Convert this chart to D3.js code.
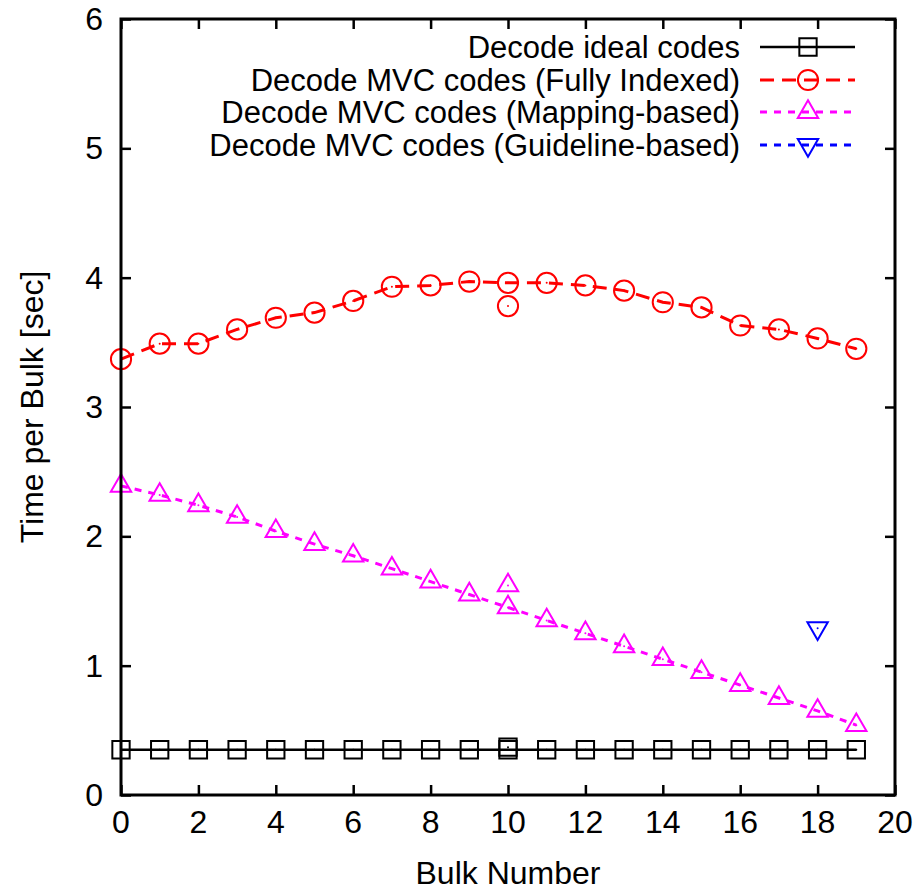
<!DOCTYPE html>
<html>
<head>
<meta charset="utf-8">
<script src="https://cdn.jsdelivr.net/npm/d3@7"></script>
<style>
  body { margin: 0; background: #fff; }
  text { font-family: "Liberation Sans", Arial, sans-serif; }
</style>
</head>
<body>
<svg id="svg" width="920" height="892"></svg>
<script>
var bulks = [0, 1, 2, 3, 4, 5, 6, 7, 8, 9, 10, 11, 12, 13, 14, 15, 16, 17, 18, 19];
var idealCodes = [0.35, 0.35, 0.35, 0.35, 0.35, 0.35, 0.35, 0.35, 0.35, 0.35,
                  0.35, 0.35, 0.35, 0.35, 0.35, 0.35, 0.35, 0.35, 0.35, 0.35];
var fullyIndexed = [3.37, 3.49, 3.49, 3.60, 3.69, 3.73, 3.82, 3.93, 3.94, 3.97,
                    3.96, 3.96, 3.94, 3.90, 3.81, 3.77, 3.63, 3.60, 3.53, 3.45];
var mappingBased = [2.39, 2.32, 2.24, 2.15, 2.04, 1.94, 1.85, 1.75, 1.65, 1.55,
                    1.45, 1.35, 1.25, 1.15, 1.05, 0.95, 0.85, 0.75, 0.65, 0.54];
// stray extra measurements at bulk 10 (not joined to the lines)
var extraBulk = [10];
var idealExtra = [0.37];
var fullyExtra = [3.78];
var mappingExtra = [1.62];
var guidelineBulk = [18];
var guidelineBased = [1.29];

var xTicks = [0, 2, 4, 6, 8, 10, 12, 14, 16, 18, 20];
var yTicks = [0, 1, 2, 3, 4, 5, 6];

var svg = d3.select('#svg');
var pLeft = 121, pRight = 895, pTop = 19, pBottom = 795;
var scX = d3.scaleLinear().domain([0, 20]).range([pLeft, pRight]);
var scY = d3.scaleLinear().domain([0, 6]).range([pBottom, pTop]);

function pts(xs, ys) {
    return xs.map((x, i) => ({x: x, y: ys[i]}));
}

var series = [
    {name: 'Decode ideal codes', color: '#000', dash: null, width: 2.5, shape: 'square',
     data: pts(bulks, idealCodes), extra: pts(extraBulk, idealExtra)},
    {name: 'Decode MVC codes (Fully Indexed)', color: '#ff0000', dash: '14,8', width: 3, shape: 'circle',
     data: pts(bulks, fullyIndexed), extra: pts(extraBulk, fullyExtra)},
    {name: 'Decode MVC codes (Mapping-based)', color: '#ff00ff', dash: '7,7', width: 3, shape: 'triUp',
     data: pts(bulks, mappingBased), extra: pts(extraBulk, mappingExtra)},
    {name: 'Decode MVC codes (Guideline-based)', color: '#0000ff', dash: '7,7', width: 3, shape: 'triDown',
     data: [], extra: pts(guidelineBulk, guidelineBased)},
];

var shapes = {
    square: d3.symbol().type(d3.symbolSquare).size(300),
    circle: d3.symbol().type(d3.symbolCircle).size(320),
    triUp: d3.symbol().type(d3.symbolTriangle).size(180),
    triDown: d3.symbol().type(d3.symbolTriangle).size(180)
};

function marker(g, s, x, y) {
    g.append('path')
        .attr('d', shapes[s.shape]())
        .attr('fill', 'none')
        .attr('stroke', s.color)
        .attr('stroke-width', 2)
        .attr('transform', 'translate(' + x + ',' + y + ')' + (s.shape === 'triDown' ? ' rotate(180)' : ''));
    g.append('circle')
        .attr('cx', x).attr('cy', y).attr('r', 1)
        .attr('fill', s.color);
}

// axes with inward ticks on all four sides
var tickLen = 10;
svg.append('g').attr('transform', 'translate(0,' + pBottom + ')')
    .call(d3.axisTop(scX).tickValues(xTicks).tickSize(tickLen).tickFormat(''))
    .call(g => g.select('.domain').remove());
svg.append('g').attr('transform', 'translate(0,' + pTop + ')')
    .call(d3.axisBottom(scX).tickValues(xTicks).tickSize(tickLen).tickFormat(''))
    .call(g => g.select('.domain').remove());
svg.append('g').attr('transform', 'translate(' + pLeft + ',0)')
    .call(d3.axisRight(scY).tickValues(yTicks).tickSize(tickLen).tickFormat(''))
    .call(g => g.select('.domain').remove());
svg.append('g').attr('transform', 'translate(' + pRight + ',0)')
    .call(d3.axisLeft(scY).tickValues(yTicks).tickSize(tickLen).tickFormat(''))
    .call(g => g.select('.domain').remove());
svg.selectAll('.tick line').attr('stroke', '#000').attr('stroke-width', 2.5);

// tick labels
svg.append('g').selectAll('text').data(xTicks).enter().append('text')
    .attr('x', d => scX(d)).attr('y', pBottom + 38)
    .attr('text-anchor', 'middle').attr('font-size', 32)
    .text(d => d);
svg.append('g').selectAll('text').data(yTicks).enter().append('text')
    .attr('x', pLeft - 18).attr('y', d => scY(d) + 11)
    .attr('text-anchor', 'end').attr('font-size', 32)
    .text(d => d);

svg.append('text')
    .attr('x', (pLeft + pRight) / 2).attr('y', 884)
    .attr('text-anchor', 'middle').attr('font-size', 32)
    .text('Bulk Number');
svg.append('text')
    .attr('transform', 'translate(43,' + (pTop + pBottom) / 2 + ') rotate(-90)')
    .attr('text-anchor', 'middle').attr('font-size', 32)
    .text('Time per Bulk [sec]');

// series
var line = d3.line().x(d => scX(d.x)).y(d => scY(d.y));
series.forEach(function (s) {
    var g = svg.append('g');
    if (s.data.length) {
        g.append('path')
            .attr('d', line(s.data))
            .attr('fill', 'none')
            .attr('stroke', s.color)
            .attr('stroke-width', s.width)
            .attr('stroke-dasharray', s.dash);
    }
    s.data.concat(s.extra).forEach(d => marker(g, s, scX(d.x), scY(d.y)));
});

// legend
var legY = [47, 80, 112, 145];
series.forEach(function (s, i) {
    var g = svg.append('g');
    g.append('text')
        .attr('x', 740).attr('y', legY[i] + 11)
        .attr('text-anchor', 'end').attr('font-size', 31)
        .text(s.name);
    g.append('line')
        .attr('x1', 760).attr('x2', 855)
        .attr('y1', legY[i]).attr('y2', legY[i])
        .attr('stroke', s.color)
        .attr('stroke-width', s.width)
        .attr('stroke-dasharray', s.dash);
    marker(g, s, 808, legY[i]);
});

// frame
svg.append('rect')
    .attr('x', pLeft).attr('y', pTop)
    .attr('width', pRight - pLeft).attr('height', pBottom - pTop)
    .attr('fill', 'none').attr('stroke', '#000').attr('stroke-width', 3);
</script>
</body>
</html>
